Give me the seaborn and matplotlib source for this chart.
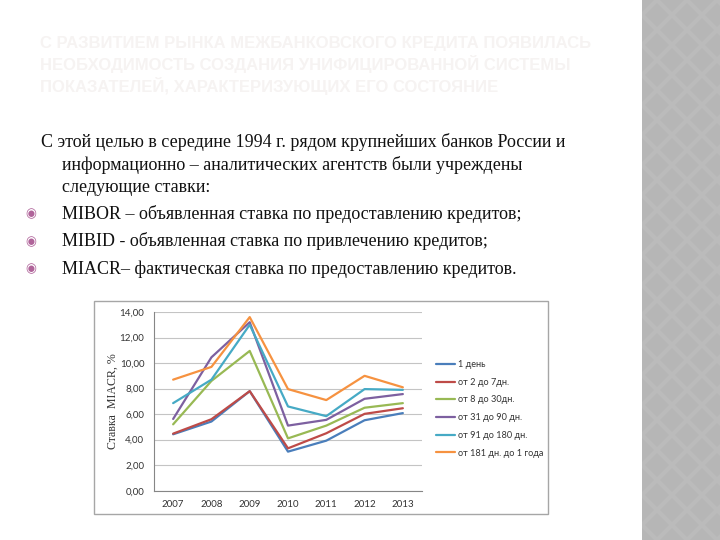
import matplotlib
matplotlib.use("Agg")
import matplotlib.pyplot as plt
from matplotlib.patches import Rectangle, Polygon
from matplotlib.ticker import FuncFormatter
import seaborn as sns
import pandas as pd
import numpy as np

years = ["2007", "2008", "2009", "2010", "2011", "2012", "2013"]
series_names = ["1 день", "от 2 до 7дн.", "от 8 до 30дн.", "от 31 до 90 дн.",
                "от 91 до 180 дн.", "от 181 дн. до 1 года"]
s_1day = [4.42, 5.42, 7.80, 3.06, 3.92, 5.52, 6.08]
s_2_7 = [4.47, 5.60, 7.80, 3.32, 4.50, 6.02, 6.46]
s_8_30 = [5.20, 8.60, 10.95, 4.10, 5.10, 6.50, 6.86]
s_31_90 = [5.62, 10.45, 13.20, 5.10, 5.55, 7.20, 7.57]
s_91_180 = [6.86, 8.70, 13.00, 6.60, 5.84, 7.96, 7.90]
s_181_1y = [8.70, 9.70, 13.60, 7.96, 7.10, 9.00, 8.10]
colors = ["#4a7ebb", "#be4b48", "#98b954", "#7d60a0", "#46aac5", "#f69240"]

title_lines = ["С РАЗВИТИЕМ РЫНКА МЕЖБАНКОВСКОГО КРЕДИТА ПОЯВИЛАСЬ",
               "НЕОБХОДИМОСТЬ СОЗДАНИЯ УНИФИЦИРОВАННОЙ СИСТЕМЫ",
               "ПОКАЗАТЕЛЕЙ, ХАРАКТЕРИЗУЮЩИХ ЕГО СОСТОЯНИЕ"]
intro_lines = ["С этой целью в середине 1994 г. рядом крупнейших банков России и",
               "информационно – аналитических агентств были учреждены",
               "следующие ставки:"]
bullets = ["MIBOR – объявленная ставка по предоставлению кредитов;",
           "MIBID - объявленная ставка по привлечению кредитов;",
           "MIACR– фактическая ставка по предоставлению кредитов."]
y_label = "Ставка  MIACR, %"

all_series = [s_1day, s_2_7, s_8_30, s_31_90, s_91_180, s_181_1y]
rows = []
for name, vals in zip(series_names, all_series):
    for i, (yr, v) in enumerate(zip(years, vals)):
        rows.append({"pos": i, "year": yr, "value": v, "series": name})
df = pd.DataFrame(rows)

sns.set_style("white")
W, H = 720, 540
fig = plt.figure(figsize=(7.2, 5.4), dpi=100)
fig.patch.set_facecolor("white")

def fx(px):
    return px / W

def fy(py):
    return 1 - py / H

# right decorative panel
fig.patches.append(Rectangle((fx(642), 0), fx(720) - fx(642), 1, transform=fig.transFigure,
                             facecolor="#bbbbbb", edgecolor="none", zorder=0))
step = 30
for j in range(-1, int(H / step) * 2 + 3):
    for i in range(-1, 5):
        cx = 642 + i * step + (step / 2 if j % 2 else 0)
        cy = j * step / 2
        d = step / 2 - 3
        pts = [(fx(cx), fy(cy - d)), (fx(cx + d), fy(cy)), (fx(cx), fy(cy + d)), (fx(cx - d), fy(cy))]
        fig.patches.append(Polygon(pts, closed=True, transform=fig.transFigure,
                                   facecolor="#b6b6b6", edgecolor="none", zorder=0.5))
fig.patches.append(Rectangle((0, 0), fx(642), 1, transform=fig.transFigure,
                             facecolor="white", edgecolor="none", zorder=0.8))

# title (very faint)
for k, line in enumerate(title_lines):
    fig.text(fx(40), fy(48 + k * 22), line, fontsize=12, fontweight="bold",
             color="#f6f3f2", family="Liberation Sans", va="baseline", ha="left")

# body text
serif = "Liberation Serif"
fs = 13
fig.text(fx(41), fy(147), intro_lines[0], fontsize=fs, family=serif, color="#111111", va="baseline")
fig.text(fx(62), fy(169.5), intro_lines[1], fontsize=fs, family=serif, color="#111111", va="baseline")
fig.text(fx(62), fy(191.5), intro_lines[2], fontsize=fs, family=serif, color="#111111", va="baseline")
for k, b in enumerate(bullets):
    yb = 219 + k * 27.5
    fig.text(fx(62), fy(yb), b, fontsize=fs, family=serif, color="#111111", va="baseline")
    fig.text(fx(31), fy(yb - 5), "◉", fontsize=9, family="DejaVu Sans", color="#b0649a",
             va="center", ha="center")

# chart frame
fig.patches.append(Rectangle((fx(94), fy(514)), fx(548) - fx(94), fy(301) - fy(514),
                             transform=fig.transFigure, facecolor="white",
                             edgecolor="#a6a6a6", linewidth=1.0, zorder=1))

ax = fig.add_axes([fx(154), fy(490.7), fx(422) - fx(154), fy(312) - fy(490.7)])
ax.set_zorder(2)
ax.patch.set_alpha(0)
sns.lineplot(data=df, x="pos", y="value", hue="series", hue_order=series_names,
             palette=colors, sort=False, linewidth=1.6, ax=ax, legend=False)

ax.set_xlim(-0.5, len(years) - 0.5)
ax.set_ylim(0, 14)
ax.set_yticks(np.arange(0, 14.01, 2))
ax.yaxis.set_major_formatter(FuncFormatter(lambda v, p: f"{v:.2f}".replace(".", ",")))
ax.grid(axis="y", color="#c4c4c4", linewidth=0.8)
ax.set_axisbelow(True)
ax.set_xticks(np.arange(-0.5, len(years), 1.0))
ax.set_xticklabels([])
ax.set_xticks(np.arange(len(years)), minor=True)
ax.set_xticklabels(years, minor=True)
ax.tick_params(axis="x", which="major", length=4, color="#868686", width=0.8, direction="out")
ax.tick_params(axis="x", which="minor", length=0, pad=7, labelsize=7, labelcolor="#333333")
ax.tick_params(axis="y", length=4, color="#868686", width=0.8, direction="out",
               labelsize=7, labelcolor="#333333", pad=3)
for lab in ax.get_xticklabels(minor=True) + ax.get_yticklabels():
    lab.set_family("Lato")
for s in ["top", "right"]:
    ax.spines[s].set_visible(False)
for s in ["left", "bottom"]:
    ax.spines[s].set_color("#868686")
    ax.spines[s].set_linewidth(0.8)
ax.set_xlabel("")
ax.set_ylabel("")
fig.text(fx(113), fy(401), y_label, rotation=90, fontsize=8.6, family=serif,
         color="#333333", va="center", ha="center")

# legend
handles = [plt.Line2D([], [], color=c, linewidth=1.6) for c in colors]
leg = fig.legend(handles, series_names, loc="upper left", bbox_to_anchor=(fx(436), fy(360)),
                 bbox_transform=fig.transFigure, frameon=False,
                 handlelength=2.1, handletextpad=0.25, labelspacing=0.95,
                 borderpad=0, borderaxespad=0, prop={"family": "Lato", "size": 6.6})
for t in leg.get_texts():
    t.set_color("#333333")
leg.set_zorder(3)

fig.savefig("out.png", dpi=100, facecolor="white")
